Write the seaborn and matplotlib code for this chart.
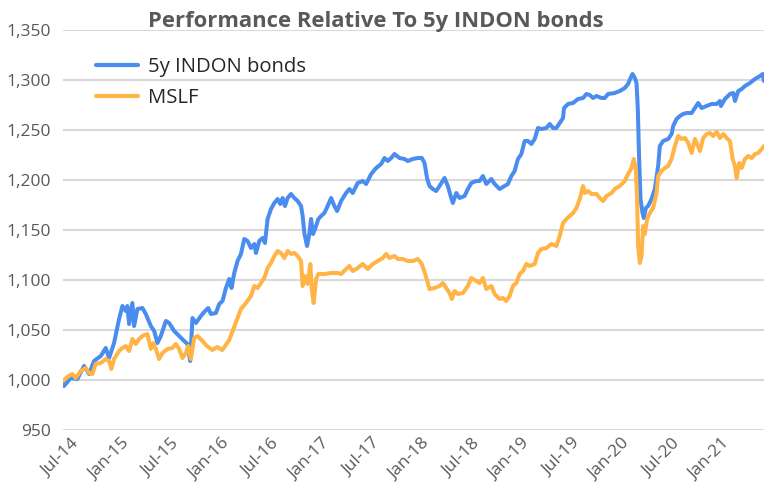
import numpy as np
import pandas as pd
import matplotlib
matplotlib.use("Agg")
import matplotlib.pyplot as plt
import matplotlib.transforms as mtrans
from matplotlib.ticker import FuncFormatter
import seaborn as sns

# ---------------- data (time in decimal years) ----------------
indon_t = [2014.500, 2014.510, 2014.577, 2014.643, 2014.710, 2014.760, 2014.810, 2014.877, 2014.927, 2014.960,
           2015.010, 2015.060, 2015.093, 2015.127, 2015.143, 2015.160, 2015.193, 2015.210, 2015.243, 2015.293,
           2015.327, 2015.377, 2015.410, 2015.443, 2015.477, 2015.527, 2015.560, 2015.610, 2015.660, 2015.710,
           2015.743, 2015.770, 2015.793, 2015.827, 2015.877, 2015.910, 2015.950, 2015.977, 2016.027, 2016.060,
           2016.093, 2016.127, 2016.160, 2016.183, 2016.210, 2016.243, 2016.277, 2016.310, 2016.343, 2016.377,
           2016.410, 2016.427, 2016.460, 2016.493, 2016.517, 2016.543, 2016.577, 2016.610, 2016.643, 2016.670,
           2016.693, 2016.717, 2016.743, 2016.777, 2016.810, 2016.843, 2016.877, 2016.893, 2016.910, 2016.937,
           2016.960, 2016.977, 2016.997, 2017.017, 2017.050, 2017.077, 2017.110, 2017.143, 2017.177, 2017.210,
           2017.237, 2017.277, 2017.327, 2017.360, 2017.393, 2017.443, 2017.493, 2017.527, 2017.577, 2017.627,
           2017.677, 2017.710, 2017.743, 2017.777, 2017.810, 2017.860, 2017.910, 2017.943, 2017.993, 2018.043,
           2018.083, 2018.110, 2018.137, 2018.160, 2018.193, 2018.227, 2018.260, 2018.310, 2018.343, 2018.377,
           2018.393, 2018.427, 2018.460, 2018.510, 2018.543, 2018.577, 2018.627, 2018.660, 2018.693, 2018.727,
           2018.777, 2018.810, 2018.860, 2018.910, 2018.943, 2018.977, 2019.010, 2019.043, 2019.077, 2019.110,
           2019.143, 2019.177, 2019.210, 2019.243, 2019.277, 2019.327, 2019.360, 2019.393, 2019.427, 2019.460,
           2019.493, 2019.503, 2019.543, 2019.593, 2019.643, 2019.693, 2019.727, 2019.760, 2019.793, 2019.827,
           2019.877, 2019.910, 2019.943, 2020.010, 2020.060, 2020.110, 2020.143, 2020.167, 2020.187, 2020.210,
           2020.227, 2020.240, 2020.253, 2020.267, 2020.287, 2020.300, 2020.320, 2020.343, 2020.377, 2020.410,
           2020.443, 2020.460, 2020.493, 2020.543, 2020.577, 2020.593, 2020.627, 2020.660, 2020.693, 2020.727,
           2020.777, 2020.810, 2020.843, 2020.877, 2020.927, 2020.977, 2021.027, 2021.060, 2021.070, 2021.110,
           2021.160, 2021.193, 2021.210, 2021.243, 2021.277, 2021.310, 2021.360, 2021.410, 2021.460, 2021.487,
           2021.500]
indon_v = [997, 994, 1002, 1001, 1014, 1006, 1019, 1024, 1032, 1022,
           1037, 1061, 1074, 1069, 1074, 1056, 1077, 1054, 1071, 1072,
           1066, 1054, 1049, 1037, 1044, 1059, 1057, 1049, 1044, 1039,
           1036, 1019, 1062, 1057, 1064, 1068, 1072, 1066, 1067, 1076,
           1079, 1092, 1101, 1092, 1107, 1119, 1126, 1141, 1139, 1132,
           1136, 1127, 1139, 1142, 1137, 1161, 1171, 1177, 1181, 1176,
           1182, 1174, 1182, 1186, 1182, 1179, 1174, 1164, 1147, 1134,
           1146, 1161, 1146, 1151, 1161, 1164, 1167, 1174, 1182, 1174,
           1169, 1179, 1187, 1191, 1187, 1197, 1199, 1196, 1206, 1212,
           1216, 1222, 1219, 1222, 1226, 1222, 1221, 1219, 1221, 1222,
           1222, 1217, 1201, 1194, 1191, 1189, 1194, 1202, 1194, 1182,
           1177, 1187, 1182, 1184, 1191, 1197, 1199, 1199, 1204, 1196,
           1201, 1196, 1191, 1194, 1196, 1204, 1209, 1221, 1226, 1239,
           1239, 1236, 1241, 1252, 1251, 1252, 1256, 1252, 1252, 1257,
           1262, 1272, 1276, 1277, 1281, 1282, 1286, 1285, 1282, 1284,
           1282, 1282, 1286, 1287, 1289, 1292, 1296, 1302, 1306, 1302,
           1297, 1271, 1221, 1181, 1167, 1162, 1172, 1174, 1181, 1191,
           1214, 1234, 1239, 1241, 1246, 1254, 1261, 1264, 1266, 1267,
           1267, 1272, 1277, 1272, 1274, 1276, 1276, 1279, 1274, 1281,
           1286, 1287, 1279, 1289, 1291, 1294, 1297, 1301, 1304, 1306,
           1299]

mslf_t = [2014.500, 2014.543, 2014.593, 2014.627, 2014.677, 2014.727, 2014.760, 2014.793, 2014.827, 2014.877,
          2014.927, 2014.960, 2014.983, 2015.010, 2015.060, 2015.093, 2015.127, 2015.160, 2015.193, 2015.227,
          2015.260, 2015.293, 2015.343, 2015.377, 2015.403, 2015.427, 2015.460, 2015.493, 2015.543, 2015.593,
          2015.627, 2015.660, 2015.693, 2015.727, 2015.750, 2015.777, 2015.810, 2015.843, 2015.893, 2015.927,
          2015.990, 2016.040, 2016.090, 2016.160, 2016.190, 2016.227, 2016.277, 2016.327, 2016.377, 2016.410,
          2016.443, 2016.477, 2016.510, 2016.543, 2016.577, 2016.610, 2016.643, 2016.677, 2016.710, 2016.743,
          2016.777, 2016.810, 2016.843, 2016.877, 2016.893, 2016.917, 2016.943, 2016.970, 2016.983, 2017.003,
          2017.027, 2017.050, 2017.110, 2017.177, 2017.243, 2017.277, 2017.327, 2017.360, 2017.393, 2017.443,
          2017.493, 2017.543, 2017.593, 2017.643, 2017.693, 2017.727, 2017.760, 2017.810, 2017.843, 2017.893,
          2017.943, 2017.993, 2018.043, 2018.083, 2018.117, 2018.143, 2018.160, 2018.210, 2018.260, 2018.293,
          2018.327, 2018.360, 2018.383, 2018.410, 2018.443, 2018.493, 2018.543, 2018.577, 2018.627, 2018.660,
          2018.693, 2018.727, 2018.777, 2018.810, 2018.860, 2018.893, 2018.927, 2018.960, 2018.993, 2019.027,
          2019.060, 2019.093, 2019.127, 2019.160, 2019.210, 2019.243, 2019.277, 2019.327, 2019.377, 2019.427,
          2019.460, 2019.493, 2019.527, 2019.560, 2019.593, 2019.627, 2019.660, 2019.693, 2019.710, 2019.743,
          2019.777, 2019.827, 2019.860, 2019.893, 2019.927, 2019.977, 2020.010, 2020.060, 2020.110, 2020.143,
          2020.177, 2020.200, 2020.220, 2020.233, 2020.243, 2020.260, 2020.277, 2020.293, 2020.310, 2020.333,
          2020.360, 2020.393, 2020.427, 2020.443, 2020.477, 2020.510, 2020.543, 2020.577, 2020.610, 2020.643,
          2020.677, 2020.710, 2020.743, 2020.777, 2020.810, 2020.833, 2020.860, 2020.893, 2020.927, 2020.960,
          2020.993, 2021.027, 2021.060, 2021.093, 2021.127, 2021.160, 2021.187, 2021.210, 2021.227, 2021.253,
          2021.277, 2021.310, 2021.343, 2021.377, 2021.410, 2021.443, 2021.477, 2021.500]
mslf_v = [999, 1003, 1006, 1002, 1009, 1012, 1007, 1006, 1016, 1017,
          1021, 1019, 1011, 1021, 1029, 1032, 1034, 1029, 1041, 1036,
          1041, 1044, 1046, 1031, 1037, 1031, 1021, 1027, 1031, 1032,
          1036, 1031, 1022, 1027, 1034, 1021, 1042, 1044, 1039, 1035,
          1030, 1033, 1030, 1040, 1048, 1058, 1071, 1077, 1084, 1094,
          1092, 1097, 1102, 1112, 1117, 1124, 1129, 1127, 1122, 1129,
          1126, 1127, 1124, 1119, 1094, 1104, 1096, 1116, 1092, 1077,
          1101, 1106, 1106, 1107, 1107, 1106, 1111, 1114, 1109, 1112,
          1116, 1111, 1116, 1119, 1122, 1126, 1122, 1124, 1121, 1121,
          1119, 1119, 1121, 1116, 1106, 1097, 1091, 1092, 1094, 1097,
          1092, 1087, 1081, 1089, 1086, 1087, 1094, 1102, 1099, 1097,
          1102, 1091, 1094, 1086, 1081, 1082, 1079, 1084, 1094, 1097,
          1106, 1109, 1116, 1114, 1116, 1127, 1131, 1132, 1136, 1134,
          1144, 1157, 1161, 1164, 1167, 1172, 1181, 1194, 1187, 1189,
          1186, 1186, 1182, 1179, 1184, 1187, 1191, 1194, 1199, 1206,
          1212, 1221, 1211, 1181, 1134, 1117, 1124, 1154, 1146, 1161,
          1167, 1172, 1187, 1204, 1209, 1212, 1214, 1221, 1234, 1244,
          1241, 1242, 1237, 1227, 1241, 1236, 1229, 1242, 1246, 1247,
          1244, 1248, 1242, 1246, 1242, 1239, 1221, 1214, 1202, 1217,
          1212, 1221, 1224, 1222, 1226, 1227, 1231, 1234]

series_names = ["5y INDON bonds", "MSLF"]
series_colors = ["#4A8DEE", "#FFB445"]
tick_labels = ["Jul-14", "Jan-15", "Jul-15", "Jan-16", "Jul-16", "Jan-17", "Jul-17",
               "Jan-18", "Jul-18", "Jan-19", "Jul-19", "Jan-20", "Jul-20", "Jan-21"]
tick_years = [2014.5, 2015.0, 2015.5, 2016.0, 2016.5, 2017.0, 2017.5,
              2018.0, 2018.5, 2019.0, 2019.5, 2020.0, 2020.5, 2021.0]
y_ticks = [950, 1000, 1050, 1100, 1150, 1200, 1250, 1300, 1350]
title = "Performance Relative To 5y INDON bonds"

df = pd.concat([
    pd.DataFrame({"t": indon_t, "v": indon_v, "series": series_names[0]}),
    pd.DataFrame({"t": mslf_t, "v": mslf_v, "series": series_names[1]}),
], ignore_index=True)

# ---------------- style ----------------
sns.set_theme(style="white")
plt.rcParams['font.family'] = ['Open Sans', 'DejaVu Sans']

W, H = 764, 490
fig = plt.figure(figsize=(W / 100, H / 100), dpi=100)
ax = fig.add_axes([63 / W, 60 / H, 701 / W, 400 / H])

sns.lineplot(data=df, x="t", y="v", hue="series", hue_order=series_names,
             palette=series_colors, estimator=None, sort=False, lw=2.9, ax=ax,
             zorder=3)

ax.set_xlim(2014.5, 2021.5)
ax.set_ylim(950, 1350)
ax.set_yticks(y_ticks)
ax.yaxis.set_major_formatter(FuncFormatter(lambda v, p: f"{int(v):,}"))
ax.set_xticks(tick_years)
ax.set_xticklabels(tick_labels)
ax.set_xlabel("")
ax.set_ylabel("")

ax.grid(axis="y", color="#D9D9D9", lw=1.5, zorder=0)
ax.grid(axis="x", visible=False)
for s in ax.spines.values():
    s.set_visible(False)

ax.tick_params(axis="y", length=0, pad=9, labelsize=12.5, labelcolor="#595959")
ax.tick_params(axis="x", length=0, pad=4, labelsize=12.5, labelcolor="#595959")
offset = mtrans.ScaledTranslation(8 / 100, 0, fig.dpi_scale_trans)
for lbl in ax.get_xticklabels():
    lbl.set_rotation(45)
    lbl.set_ha("right")
    lbl.set_va("top")
    lbl.set_rotation_mode("anchor")
    lbl.set_transform(lbl.get_transform() + offset)

fig.text(376 / W, 1 - 22 / H, title, ha="center", va="center",
         fontsize=15.8, fontweight="bold", color="#595959")

leg = ax.legend(loc="upper left", bbox_to_anchor=(96 / W, 1 - 57 / H),
                bbox_transform=fig.transFigure, frameon=False, fontsize=14.6,
                handlelength=2.07, handletextpad=0.5, labelspacing=0.53,
                borderpad=0, borderaxespad=0)
for line in leg.get_lines():
    line.set_linewidth(3)

fig.savefig("out.png", dpi=100)
